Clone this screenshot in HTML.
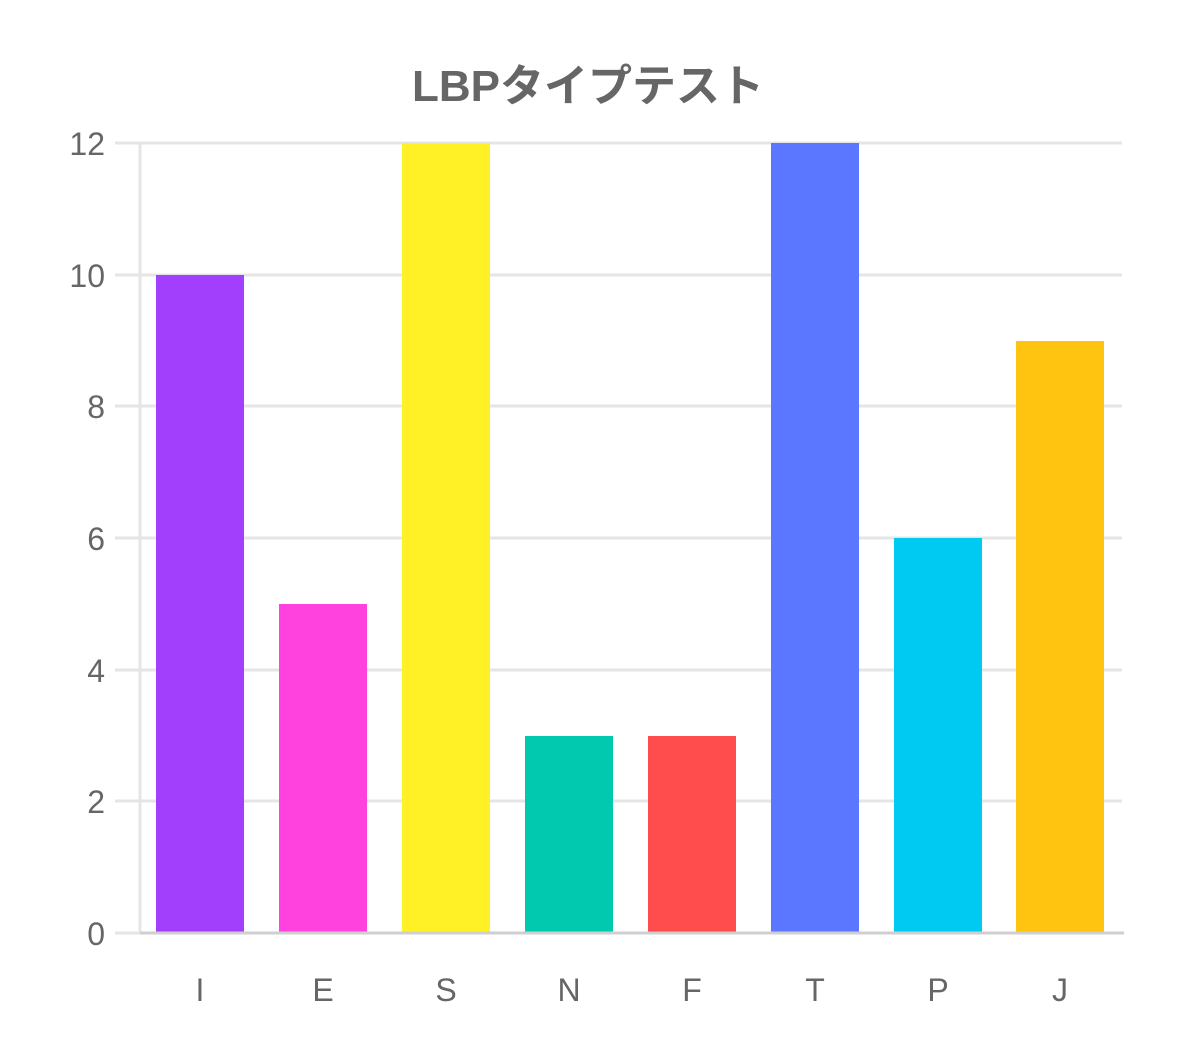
<!DOCTYPE html>
<html><head><meta charset="utf-8"><style>body{margin:0;background:#fff}</style></head><body>
<svg width="1179" height="1061" xmlns="http://www.w3.org/2000/svg" style="display:block">
<g stroke="#e5e5e5" stroke-width="3">
<line x1="115" y1="143" x2="1122" y2="143"/><line x1="115" y1="275" x2="1122" y2="275"/>
<line x1="115" y1="406" x2="1122" y2="406"/><line x1="115" y1="538" x2="1122" y2="538"/>
<line x1="115" y1="670" x2="1122" y2="670"/><line x1="115" y1="801" x2="1122" y2="801"/>
<line x1="115" y1="933" x2="140" y2="933"/>
<line x1="140" y1="143" x2="140" y2="933"/>
</g>
<rect x="156" y="275" width="88" height="658" fill="#a23ffd"/>
<rect x="279" y="604" width="88" height="329" fill="#ff42de"/>
<rect x="402" y="143" width="88" height="790" fill="#fff125"/>
<rect x="525" y="736" width="88" height="197" fill="#00c9b0"/>
<rect x="648" y="736" width="88" height="197" fill="#ff4d4d"/>
<rect x="771" y="143" width="88" height="790" fill="#5b76ff"/>
<rect x="894" y="538" width="88" height="395" fill="#00c9f2"/>
<rect x="1016" y="341" width="88" height="592" fill="#ffc40f"/>
<line x1="140" y1="933" x2="1124" y2="933" stroke="#cfcfcf" stroke-width="3"/>
<g font-family="Liberation Sans, sans-serif" font-size="32" fill="#666" text-anchor="end">
<text x="105" y="155">12</text><text x="105" y="287">10</text><text x="105" y="418">8</text>
<text x="105" y="550">6</text><text x="105" y="682">4</text><text x="105" y="813">2</text><text x="105" y="945">0</text>
</g>
<g font-family="Liberation Sans, sans-serif" font-size="32" fill="#666" text-anchor="middle">
<text x="200" y="1001">I</text><text x="323" y="1001">E</text><text x="446" y="1001">S</text>
<text x="569" y="1001">N</text><text x="692" y="1001">F</text><text x="815" y="1001">T</text>
<text x="938" y="1001">P</text><text x="1060" y="1001">J</text>
</g>
<text x="588" y="101" text-anchor="middle" font-family="Liberation Sans, Noto Sans CJK JP, sans-serif" font-weight="bold" font-size="44" fill="#666">LBPタイプテスト</text>
</svg>
</body></html>
